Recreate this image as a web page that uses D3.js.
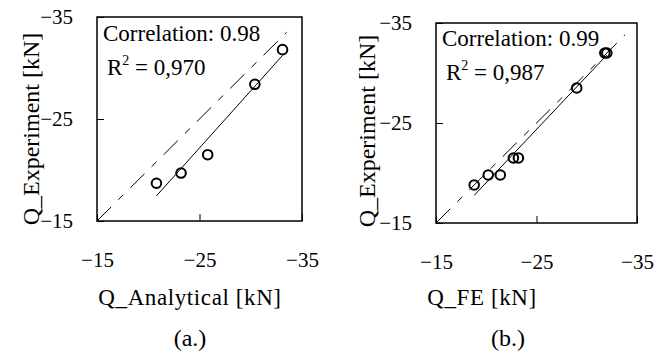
<!DOCTYPE html>
<html>
<head>
<meta charset="utf-8">
<script src="https://cdn.jsdelivr.net/npm/d3@7"></script>
<style>
  html, body { margin: 0; padding: 0; background: #fff; }
  svg { display: block; font-family: "Liberation Serif", "Times New Roman", serif; }
</style>
</head>
<body>
<svg id="chart" width="667" height="360"></svg>
<script>
// Shared axis settings (kN, negative = compression)
const axisDomain = [-15, -35];
const tickValues = [-15, -25, -35];
const yTitle = "Q_Experiment [kN]";

// Panel (a.): analytical prediction vs experiment
const analyticalQ = [-20.8, -23.2, -25.8, -30.4, -33.1];
const experimentA = [-18.7, -19.7, -21.5, -28.4, -31.8];

// Panel (b.): finite element prediction vs experiment
const feQ         = [-18.8, -20.2, -21.4, -22.7, -23.2, -29.0, -31.8, -32.0];
const experimentB = [-18.8, -19.8, -19.8, -21.5, -21.5, -28.5, -32.0, -32.0];

const xTitles = ["Q_Analytical [kN]", "Q_FE [kN]"];
const panelLabels = ["(a.)", "(b.)"];
const correlationText = ["0.98", "0.99"];
const rSquaredText = ["0,970", "0,987"];
// end of the y = x reference line in each panel
const identityEnd = [-33.5, -33.8];

const panels = [
  { xs: analyticalQ, ys: experimentA, box: { x: 97, y: 17, w: 205, h: 204 },
    xTitleX: 190, labelX: 190, yTitleX: 31, yTitleY: 129, textY: 41 },
  { xs: feQ, ys: experimentB, box: { x: 436, y: 23, w: 201, h: 200 },
    xTitleX: 482, labelX: 508, yTitleX: 367, yTitleY: 131, textY: 46 }
];

const svg = d3.select("#chart");

function leastSquares(xs, ys) {
  const mx = d3.mean(xs), my = d3.mean(ys);
  let sxy = 0, sxx = 0;
  xs.forEach((x, i) => { sxy += (x - mx) * (ys[i] - my); sxx += (x - mx) ** 2; });
  const slope = sxy / sxx;
  return x => my + slope * (x - mx);
}

panels.forEach((p, i) => {
  const b = p.box;
  const x = d3.scaleLinear().domain(axisDomain).range([b.x, b.x + b.w]);
  const y = d3.scaleLinear().domain(axisDomain).range([b.y + b.h, b.y]);
  const g = svg.append("g");

  // x axis: inward ticks, labels well below the frame
  const xa = g.append("g").attr("transform", `translate(0,${b.y + b.h})`)
    .call(d3.axisBottom(x).tickValues(tickValues).tickFormat(d3.format("d"))
      .tickSizeInner(-7).tickSizeOuter(0).tickPadding(31));
  // y axis
  const ya = g.append("g").attr("transform", `translate(${b.x},0)`)
    .call(d3.axisLeft(y).tickValues(tickValues).tickFormat(d3.format("d"))
      .tickSizeInner(-7).tickSizeOuter(0).tickPadding(24));
  [xa, ya].forEach(a => {
    a.select(".domain").remove();
    a.selectAll("text").attr("font-size", 21).attr("fill", "#000")
      .style("font-family", "Liberation Serif");
    a.selectAll("line").attr("stroke", "#000").attr("stroke-width", 1);
  });

  // plot frame
  g.append("rect").attr("x", b.x).attr("y", b.y).attr("width", b.w).attr("height", b.h)
    .attr("fill", "none").attr("stroke", "#000").attr("stroke-width", 1.5);

  // y = x reference (dashed)
  g.append("line")
    .attr("x1", x(axisDomain[0])).attr("y1", y(axisDomain[0]))
    .attr("x2", x(identityEnd[i])).attr("y2", y(identityEnd[i]))
    .attr("stroke", "#000").attr("stroke-width", 1)
    .attr("stroke-dasharray", "20,10,7,10");

  // linear trend through the measured points
  const fit = leastSquares(p.xs, p.ys);
  const ext = d3.extent(p.xs);
  g.append("line")
    .attr("x1", x(ext[1])).attr("y1", y(fit(ext[1])))
    .attr("x2", x(ext[0])).attr("y2", y(fit(ext[0])))
    .attr("stroke", "#000").attr("stroke-width", 1);

  // markers
  g.selectAll("circle.pt").data(p.xs).enter().append("circle")
    .attr("class", "pt")
    .attr("cx", d => x(d)).attr("cy", (d, k) => y(p.ys[k]))
    .attr("r", 4.8).attr("fill", "none").attr("stroke", "#000").attr("stroke-width", 2);

  // statistics
  g.append("text").attr("x", b.x + 6).attr("y", p.textY)
    .attr("font-size", 23).text("Correlation: " + correlationText[i]);
  const r2 = g.append("text").attr("x", b.x + 10).attr("y", p.textY + 34).attr("font-size", 23);
  r2.append("tspan").text("R");
  r2.append("tspan").attr("font-size", 14).attr("dy", -10).text("2");
  r2.append("tspan").attr("dy", 10).text(" = " + rSquaredText[i]);

  // axis titles and panel label
  g.append("text").attr("x", p.xTitleX).attr("y", 305).attr("text-anchor", "middle")
    .attr("font-size", 23).attr("letter-spacing", 0.6).text(xTitles[i]);
  g.append("text").attr("transform", `translate(${p.yTitleX},${p.yTitleY}) rotate(-90)`)
    .attr("text-anchor", "middle").attr("dy", "0.35em").attr("font-size", 24).text(yTitle);
  g.append("text").attr("x", p.labelX).attr("y", 346).attr("text-anchor", "middle")
    .attr("font-size", 24).text(panelLabels[i]);
});
</script>
</body>
</html>
